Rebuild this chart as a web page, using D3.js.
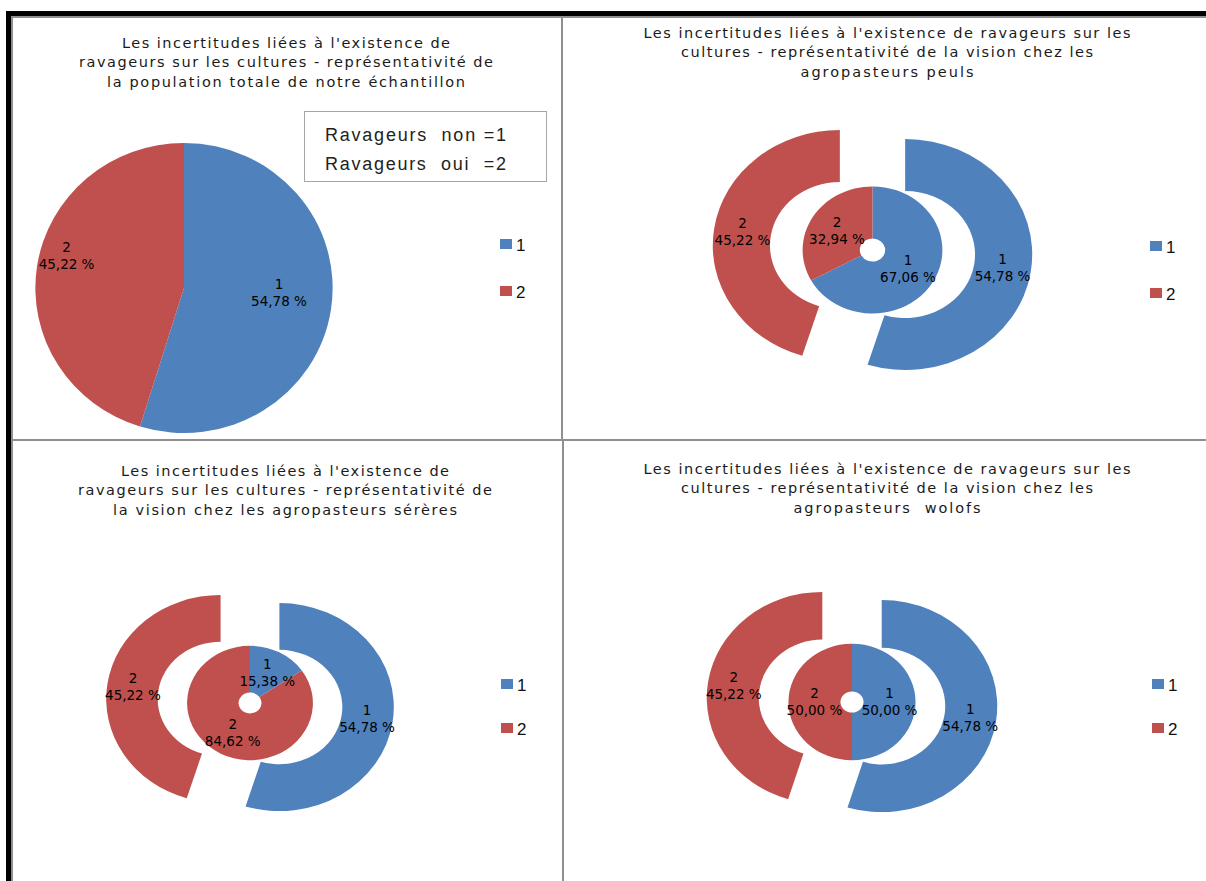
<!DOCTYPE html>
<html><head><meta charset="utf-8">
<script src="https://cdn.jsdelivr.net/npm/d3@7"></script>
<style>body{margin:0;background:#fff} svg{display:block}</style>
</head><body>
<svg id="c" width="1206" height="881"></svg>
<script>
// ---------- data ----------
const categories = ["1", "2"];
const totalValues = [54.78, 45.22];
const peulsValues = [67.06, 32.94];
const sereresValues = [15.38, 84.62];
const wolofsValues = [50.00, 50.00];
const titleTotal = ["Les incertitudes liées à l'existence de", "ravageurs sur les cultures - représentativité de", "la population totale de notre échantillon"];
const titlePeuls = ["Les incertitudes liées à l'existence de ravageurs sur les", "cultures - représentativité de la vision chez les", "agropasteurs peuls"];
const titleSereres = ["Les incertitudes liées à l'existence de", "ravageurs sur les cultures - représentativité de", "la vision chez les agropasteurs sérères"];
const titleWolofs = ["Les incertitudes liées à l'existence de ravageurs sur les", "cultures - représentativité de la vision chez les", "agropasteurs  wolofs"];
const noteLines = ["Ravageurs  non =1", "Ravageurs  oui  =2"];
const colors = ["#4F81BD", "#C0504D"];

// ---------- helpers ----------
const svg = d3.select("#c");
const color = d3.scaleOrdinal().domain(categories).range(colors);
const fmt = v => d3.format(".2f")(v).replace(".", ",") + " %";
const pie = d3.pie().sort(null).value(d => d.v);
const toData = vals => categories.map((c, i) => ({c, v: vals[i]}));

// frames
const frames = [
  {x: 12, y: 17, w: 550, h: 423},
  {x: 562, y: 17, w: 650, h: 423},
  {x: 12, y: 440, w: 551, h: 446},
  {x: 563, y: 440, w: 650, h: 446}
];
svg.selectAll("rect.frame").data(frames).join("rect")
  .attr("x", d => d.x).attr("y", d => d.y).attr("width", d => d.w).attr("height", d => d.h)
  .attr("fill", "#fff").attr("stroke", "#8f8f8f").attr("stroke-width", 2);
// black outer border
svg.append("rect").attr("x", 6).attr("y", 11).attr("width", 1200).attr("height", 5).attr("fill", "#000");
svg.append("rect").attr("x", 6).attr("y", 11).attr("width", 5).attr("height", 870).attr("fill", "#000");

function drawTitle(lines, cx, ys, widths) {
  svg.append("g").selectAll("text").data(lines).join("text")
    .attr("x", cx).attr("y", (d, i) => ys[i])
    .attr("text-anchor", "middle")
    .attr("textLength", (d, i) => widths[i]).attr("lengthAdjust", "spacing")
    .style("white-space", "pre")
    .attr("font-family", "DejaVu Sans").attr("font-size", 14.5).attr("fill", "#1a1a1a")
    .text(d => d);
}

function drawLabel(g, x, y, d) {
  const t = g.append("text").attr("text-anchor", "middle")
    .attr("font-family", "DejaVu Sans").attr("font-size", 13.5).attr("fill", "#000");
  t.append("tspan").attr("x", x).attr("y", y - 4).text(d.data.c);
  t.append("tspan").attr("x", x).attr("y", y + 13).text(fmt(d.data.v));
}

function drawLegend(x, y1, y2) {
  const g = svg.append("g");
  const ys = [y1, y2];
  categories.forEach((c, i) => {
    g.append("rect").attr("x", x).attr("y", ys[i] - 5).attr("width", 12).attr("height", 10).attr("fill", color(c));
    g.append("text").attr("x", x + 16).attr("y", ys[i] + 6.5)
      .attr("font-family", "Liberation Sans").attr("font-size", 17).attr("fill", "#111").text(c);
  });
}

// ---------- panel 1: pie ----------
(function () {
  const cx = 184, cy = 288, R = 145, sx = 1.025;
  const arcs = pie(toData(totalValues));
  const g = svg.append("g").attr("transform", `translate(${cx},${cy}) scale(${sx},1)`);
  g.selectAll("path").data(arcs).join("path")
    .attr("d", d3.arc().innerRadius(0).outerRadius(R))
    .attr("fill", d => color(d.data.c));
  const lg = svg.append("g").attr("transform", `translate(${cx},${cy})`);
  const labelR = [0.64, 0.82];
  const labelShift = [-0.1, 0.12]; // best-fit angular shift (radians)
  arcs.forEach((d, i) => {
    const a = (d.startAngle + d.endAngle) / 2 + labelShift[i];
    const r = R * labelR[i];
    drawLabel(lg, Math.sin(a) * r * sx, -Math.cos(a) * r, d);
  });
  drawTitle(titleTotal, 286, [48, 67, 86.5], [328, 414, 358]);
  // note box
  svg.append("rect").attr("x", 304.5).attr("y", 111.5).attr("width", 242).attr("height", 70)
    .attr("fill", "#fff").attr("stroke", "#a6a6a6").attr("stroke-width", 1);
  svg.append("g").selectAll("text").data(noteLines).join("text")
    .attr("x", 325).attr("y", (d, i) => 141 + i * 29)
    .attr("textLength", 181).attr("lengthAdjust", "spacing")
    .style("white-space", "pre")
    .attr("font-family", "Liberation Sans").attr("font-size", 18).attr("fill", "#222")
    .text(d => d);
  drawLegend(500, 244, 291);
})();

// ---------- donut panels ----------
function donut(vals, cx, cy, R, sx) {
  const h = R * 0.1, w = (R - h) / 2, d = R * 0.26;
  const outer = pie(toData(totalValues));
  const inner = pie(toData(vals));
  const g = svg.append("g").attr("transform", `translate(${cx},${cy}) scale(${sx},1)`);
  const innerArc = d3.arc().innerRadius(h).outerRadius(h + w);
  const outerArc = d3.arc().innerRadius(h + w).outerRadius(R);
  g.selectAll("path.in").data(inner).join("path").attr("class", "in")
    .attr("d", innerArc).attr("fill", e => color(e.data.c));
  g.selectAll("path.out").data(outer).join("path").attr("class", "out")
    .attr("transform", e => {
      const a = (e.startAngle + e.endAngle) / 2;
      return `translate(${Math.sin(a) * d},${-Math.cos(a) * d})`;
    })
    .attr("d", outerArc).attr("fill", e => color(e.data.c));
  const lg = svg.append("g").attr("transform", `translate(${cx},${cy})`);
  outer.forEach(e => {
    const a = (e.startAngle + e.endAngle) / 2;
    const r = (h + w + R) / 2 + d;
    drawLabel(lg, Math.sin(a) * r * sx, -Math.cos(a) * r, e);
  });
  inner.forEach(e => {
    const a = (e.startAngle + e.endAngle) / 2;
    const r = (2 * h + w) / 2;
    drawLabel(lg, Math.sin(a) * r * sx, -Math.cos(a) * r, e);
  });
}

donut(peulsValues, 872.5, 250, 115.5, 1.1);
drawTitle(titlePeuls, 887, [38, 57, 76.5], [487, 412, 173]);
drawLegend(1150, 246, 293);

donut(sereresValues, 250, 703, 104, 1.1);
drawTitle(titleSereres, 285, [476, 495, 514.5], [328, 414, 344]);
drawLegend(501, 684, 728);

donut(wolofsValues, 852, 702, 106, 1.09);
drawTitle(titleWolofs, 887, [474, 493, 512.5], [487, 412, 187]);
drawLegend(1152, 684, 728);
</script>
</body></html>
